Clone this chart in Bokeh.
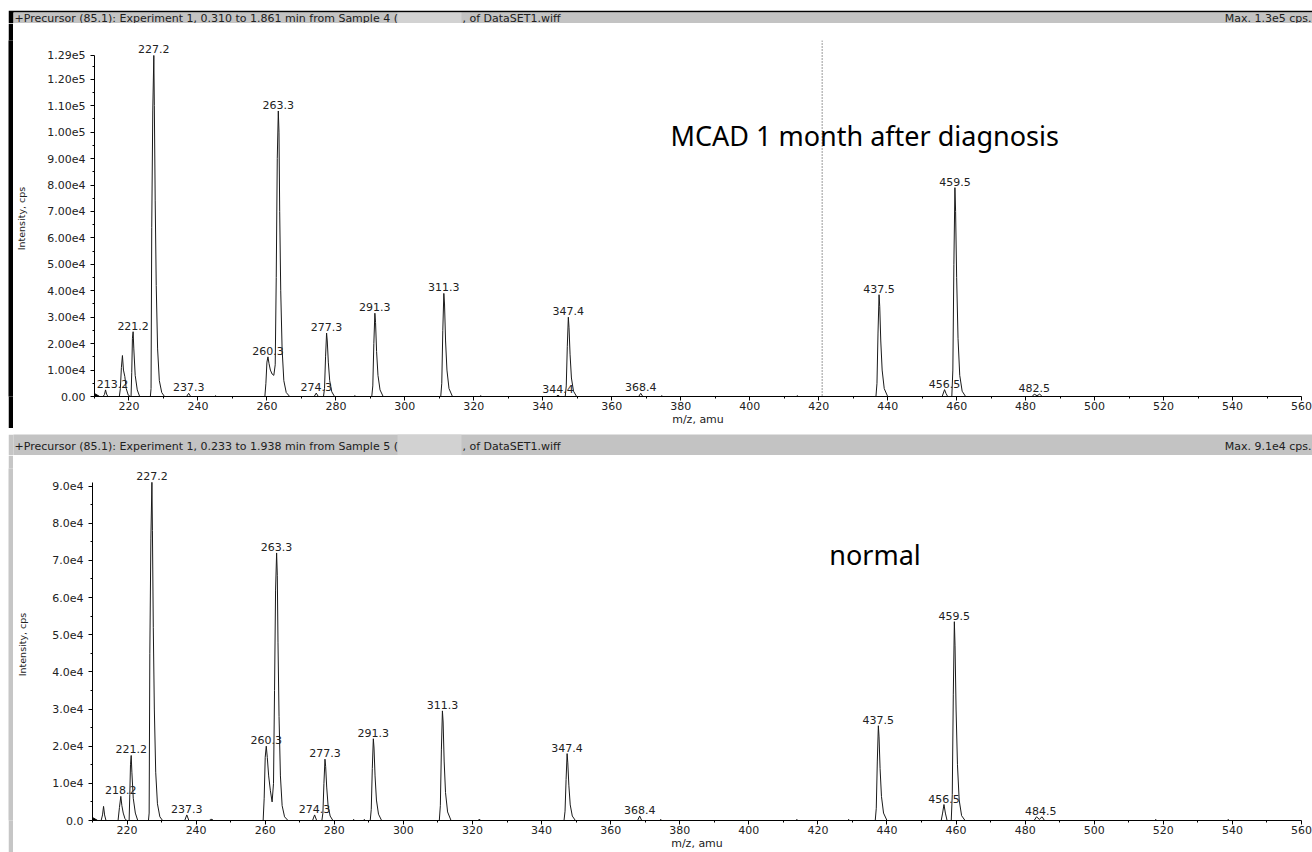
import math
from bokeh.plotting import figure
from bokeh.layouts import column, row
from bokeh.models import Range1d, FixedTicker, Label, LabelSet, Span, ColumnDataSource, Spacer
from bokeh.core.properties import value
from bokeh.core.validation import silence
from bokeh.core.validation.warnings import MISSING_RENDERERS
from bokeh.embed import file_html
from bokeh.resources import INLINE

silence(MISSING_RENDERERS, True)

# ---------------- data ----------------
mz_top = [
    210.0, 212.5, 212.9, 213.2, 213.5, 213.9,
    217.2, 217.5, 217.8, 218.1, 218.4, 218.8, 219.2, 219.8, 220.4,
    220.6, 220.8, 221.0, 221.2, 221.4, 221.8, 222.4, 223.1,
    226.2, 226.4, 226.6, 226.9, 227.2, 227.35, 227.6, 227.9, 228.3, 228.8, 229.5, 230.3,
    236.7, 237.3, 237.9,
    244.8, 245.1, 245.4,
    259.4, 259.7, 260.0, 260.3, 260.6, 261.0, 261.5, 262.0, 262.4, 262.7,
    263.0, 263.3, 263.5, 263.7, 264.0, 264.4, 264.9, 265.6, 266.6,
    273.7, 274.3, 274.9,
    276.4, 276.7, 277.0, 277.3, 277.5, 277.8, 278.2, 278.8, 279.6,
    285.2, 285.5, 285.8,
    290.4, 290.7, 291.0, 291.3, 291.5, 291.8, 292.2, 292.8, 293.7,
    310.4, 310.7, 311.0, 311.3, 311.5, 311.8, 312.2, 312.8, 313.8,
    321.7, 322.0, 322.3,
    343.9, 344.4, 344.9,
    346.5, 346.8, 347.1, 347.4, 347.6, 347.9, 348.3, 348.9, 349.8,
    367.8, 368.4, 369.0,
    374.2, 374.5, 374.8,
    413.5, 413.8, 414.1,
    436.6, 436.9, 437.2, 437.5, 437.7, 438.0, 438.4, 439.0, 440.0,
    455.8, 456.5, 456.9, 457.4,
    458.6, 458.9, 459.2, 459.5, 459.7, 460.0, 460.4, 460.9, 461.6, 462.6,
    481.9, 482.5, 483.3, 484.1, 484.8,
    560.0,
]
int_top = [
    0, 0, 800, 2500, 900, 0,
    0, 3000, 11000, 15500, 10000, 7500, 3000, 500, 0,
    0, 9000, 22000, 24500, 18000, 8000, 2500, 0,
    0, 3000, 64000, 108000, 129000, 110000, 74000, 42000, 18000, 6000, 1500, 0,
    0, 1200, 0,
    0, 300, 0,
    0, 5000, 13000, 15000, 12500, 10000, 8500, 8000, 12000, 45000,
    90000, 108000, 100000, 70000, 40000, 18000, 6000, 1500, 0,
    0, 1300, 0,
    0, 3000, 15000, 24000, 21000, 13000, 6000, 1800, 0,
    0, 300, 0,
    0, 4000, 20000, 31500, 28000, 17000, 8000, 2500, 0,
    0, 5000, 25000, 39000, 35000, 21000, 10000, 3000, 0,
    0, 300, 0,
    0, 500, 0,
    0, 4000, 19000, 30000, 26000, 16000, 7000, 2000, 0,
    0, 1200, 0,
    0, 300, 0,
    0, 300, 0,
    0, 5000, 24000, 38500, 34000, 21000, 10000, 3000, 0,
    0, 2600, 1200, 0,
    0, 10000, 50000, 79000, 70000, 45000, 22000, 8000, 2000, 0,
    0, 900, 300, 900, 0,
    0,
]

mz_bottom = [
    210.0, 212.5, 212.9, 213.2, 213.5, 213.9,
    217.4, 217.8, 218.2, 218.5, 218.9, 219.4, 219.9,
    220.6, 220.8, 221.0, 221.2, 221.4, 221.8, 222.4, 223.1,
    226.2, 226.4, 226.6, 226.9, 227.2, 227.35, 227.6, 227.9, 228.3, 228.8, 229.5, 230.3,
    236.7, 237.3, 237.9,
    243.8, 244.2, 244.6, 245.0,
    259.4, 259.7, 260.0, 260.3, 260.6, 261.0, 261.5, 262.0, 262.4, 262.7,
    263.0, 263.3, 263.5, 263.7, 264.0, 264.4, 264.9, 265.6, 266.6,
    273.7, 274.3, 274.9,
    276.4, 276.7, 277.0, 277.3, 277.5, 277.8, 278.2, 278.8, 279.6,
    285.3, 285.6, 285.9,
    288.4, 288.7, 289.0,
    290.4, 290.7, 291.0, 291.3, 291.5, 291.8, 292.2, 292.8, 293.7,
    310.4, 310.7, 311.0, 311.3, 311.5, 311.8, 312.2, 312.8, 313.8,
    321.7, 322.0, 322.3,
    346.5, 346.8, 347.1, 347.4, 347.6, 347.9, 348.3, 348.9, 349.8,
    367.8, 368.4, 369.0,
    374.2, 374.5, 374.8,
    413.6, 413.9, 414.2,
    428.6, 428.9, 429.2,
    436.6, 436.9, 437.2, 437.5, 437.7, 438.0, 438.4, 439.0, 440.0,
    455.7, 456.1, 456.5, 456.9, 457.4,
    458.6, 458.9, 459.2, 459.5, 459.7, 460.0, 460.4, 460.9, 461.6, 462.6,
    482.6, 483.3, 484.1, 484.9, 485.6,
    517.5, 517.8, 518.1,
    538.5, 538.8, 539.1,
    560.0,
]
int_bottom = [
    0, 0, 1500, 3800, 1500, 0,
    0, 3500, 6500, 4000, 2000, 500, 0,
    0, 7000, 15000, 17500, 13000, 6000, 2000, 0,
    0, 2000, 45000, 76000, 91000, 78000, 52000, 30000, 13000, 4500, 1000, 0,
    0, 1500, 0,
    0, 300, 300, 0,
    0, 6000, 17000, 20000, 17000, 12000, 8000, 5000, 10000, 35000,
    62000, 72000, 66000, 48000, 28000, 12000, 4000, 1000, 0,
    0, 1500, 0,
    0, 2000, 10000, 16500, 14500, 9000, 4000, 1200, 0,
    0, 300, 0,
    0, 300, 0,
    0, 3000, 14000, 22000, 19500, 12000, 5500, 1700, 0,
    0, 4000, 19000, 29500, 26500, 16000, 7500, 2300, 0,
    0, 400, 0,
    0, 2500, 11000, 18000, 15500, 9500, 4200, 1200, 0,
    0, 1200, 0,
    0, 300, 0,
    0, 300, 0,
    0, 300, 0,
    0, 3300, 16000, 25500, 22500, 14000, 6500, 2000, 0,
    0, 2000, 4300, 2000, 0,
    0, 7000, 34000, 53500, 47000, 30000, 15000, 5500, 1300, 0,
    0, 1000, 300, 1000, 0,
    0, 300, 0,
    0, 300, 0,
    0,
]

label_mz_top = [213.2, 221.2, 227.2, 237.3, 260.3, 263.3, 274.3, 277.3, 291.3,
                311.3, 344.4, 347.4, 368.4, 437.5, 456.5, 459.5, 482.5]
label_int_top = [2500, 24500, 129000, 1200, 15000, 108000, 1300, 24000, 31500,
                 39000, 500, 30000, 1200, 38500, 2600, 79000, 900]
label_mz_bottom = [218.2, 221.2, 227.2, 237.3, 260.3, 263.3, 274.3, 277.3, 291.3,
                   311.3, 347.4, 368.4, 437.5, 456.5, 459.5, 484.5]
label_int_bottom = [6500, 17500, 91000, 1500, 20000, 72000, 1500, 16500, 22000,
                    29500, 18000, 1200, 25500, 4300, 53500, 1000]

x_min, x_max = 210, 560
x_ticks = [220, 240, 260, 280, 300, 320, 340, 360, 380, 400, 420, 440, 460, 480, 500, 520, 540, 560]
x_minor_ticks = [210, 230, 250, 270, 290, 310, 330, 350, 370, 390, 410, 430, 450, 470, 490, 510, 530, 550]

top_y_max = 129000
top_y_ticks = [0, 10000, 20000, 30000, 40000, 50000, 60000, 70000, 80000, 90000, 100000, 110000, 120000, 129000]
top_y_labels = ["0.00", "1.00e4", "2.00e4", "3.00e4", "4.00e4", "5.00e4", "6.00e4", "7.00e4",
                "8.00e4", "9.00e4", "1.00e5", "1.10e5", "1.20e5", "1.29e5"]
top_y_minor = [5000, 15000, 25000, 35000, 45000, 55000, 65000, 75000, 85000, 95000, 105000, 115000, 125000]

bottom_y_max = 91000
bottom_y_ticks = [0, 10000, 20000, 30000, 40000, 50000, 60000, 70000, 80000, 90000]
bottom_y_labels = ["0.0", "1.0e4", "2.0e4", "3.0e4", "4.0e4", "5.0e4", "6.0e4", "7.0e4", "8.0e4", "9.0e4"]
bottom_y_minor = [5000, 15000, 25000, 35000, 45000, 55000, 65000, 75000, 85000]

top_title = "+Precursor (85.1): Experiment 1, 0.310 to 1.861 min from Sample 4 ("
bottom_title = "+Precursor (85.1): Experiment 1, 0.233 to 1.938 min from Sample 5 ("
title_tail = ", of DataSET1.wiff"
top_max = "Max. 1.3e5 cps."
bottom_max = "Max. 9.1e4 cps."
top_note = "MCAD 1 month after diagnosis"
bottom_note = "normal"
top_note_pos = (377.0, 98800)
bottom_note_pos = (423.3, 71600)
cursor_mz = 421.0

assert len(mz_top) == len(int_top)
assert len(mz_bottom) == len(int_bottom)

# ---------------- layout constants ----------------
PAD_L = 8
W = 1312 - PAD_L
STRIP = 5
FONT = "DejaVu Sans"
INK = "#1a1a1a"


def plain_fig(w, h, color):
    return figure(width=w, height=h, toolbar_location=None, x_axis_type=None, y_axis_type=None,
                  output_backend="svg", min_border_left=0, min_border_right=0,
                  min_border_top=0, min_border_bottom=0, background_fill_color=color,
                  border_fill_color=color, outline_line_color=None)


def title_bar(h, top_border, edge_color, bar_color, text, tail, maxtext, text_y):
    fw = W - STRIP
    fh = h - top_border
    t = figure(width=W, height=h, toolbar_location=None, x_axis_type=None, y_axis_type=None,
               output_backend="svg", x_range=Range1d(0, fw), y_range=Range1d(0, fh),
               min_border_left=STRIP, min_border_right=0, min_border_top=top_border,
               min_border_bottom=0, background_fill_color=bar_color,
               border_fill_color=edge_color, outline_line_color=None)
    t.quad(left=[384], right=[448], bottom=[0], top=[fh], fill_color="#d2d2d2",
           line_color=None)
    t.add_layout(Label(x=1, y=text_y, text=text, text_font=FONT, text_font_size="11px",
                       text_color="#202020", text_baseline="middle"))
    t.add_layout(Label(x=449, y=text_y, text=tail, text_font=FONT, text_font_size="11px",
                       text_color="#202020", text_baseline="middle"))
    t.add_layout(Label(x=fw - 1, y=text_y, text=maxtext, text_font=FONT, text_font_size="11px",
                       text_color="#202020", text_baseline="middle", text_align="right"))
    return t


def panel(mz, inten, y_max, y_ticks, y_labels, y_minor, lab_mz, lab_int, height, top_border,
          bottom_border, axis_px, ylabel_standoff):
    frame_h = height - top_border - bottom_border
    y_end = y_max * frame_h / axis_px
    p = figure(width=W - STRIP, height=height, toolbar_location=None, output_backend="svg",
               x_range=Range1d(x_min, x_max), y_range=Range1d(0, y_end),
               min_border_left=79, min_border_right=11, min_border_top=top_border,
               min_border_bottom=bottom_border, background_fill_color="white",
               border_fill_color="white", outline_line_color=None)
    p.grid.visible = False
    p.line(mz, inten, line_color=INK, line_width=1)
    p.scatter([x_min], [0], marker="triangle", angle=-math.pi / 2, size=9,
              fill_color="black", line_color="black")

    dx = [7 if (m - x_min) < 5 else 0 for m in lab_mz]
    src = ColumnDataSource(dict(x=lab_mz, y=lab_int, dx=dx,
                                t=[f"{m:.1f}" for m in lab_mz]))
    p.add_layout(LabelSet(x="x", y="y", text="t", source=src, text_align="center",
                          text_baseline="bottom", y_offset=2, x_offset="dx",
                          text_font=value(FONT), text_font_size=value("11px"),
                          text_color="#222222"))

    p.xaxis.ticker = FixedTicker(ticks=x_ticks, minor_ticks=x_minor_ticks)
    p.xaxis.bounds = (x_min, x_max)
    p.xaxis.axis_label = "m/z, amu"
    p.yaxis.ticker = FixedTicker(ticks=y_ticks, minor_ticks=y_minor)
    p.yaxis.bounds = (0, y_max)
    p.yaxis.major_label_overrides = {t: l for t, l in zip(y_ticks, y_labels)}
    p.yaxis.axis_label = "Intensity, cps"
    for ax in (p.xaxis[0], p.yaxis[0]):
        ax.axis_line_color = "black"
        ax.major_tick_line_color = "black"
        ax.minor_tick_line_color = "black"
        ax.major_tick_out = 4
        ax.major_tick_in = 0
        ax.minor_tick_out = 2
        ax.minor_tick_in = 0
        ax.major_label_text_font = FONT
        ax.major_label_text_font_size = "11px"
        ax.major_label_text_color = "#222222"
        ax.axis_label_text_font = FONT
        ax.axis_label_text_font_style = "normal"
        ax.axis_label_text_color = "#222222"
    p.xaxis.major_label_standoff = 1
    p.xaxis.axis_label_standoff = 0
    p.xaxis.axis_label_text_font_size = "11px"
    p.yaxis.major_label_standoff = 5
    p.yaxis.axis_label_standoff = ylabel_standoff
    p.yaxis.axis_label_text_font_size = "9.5px"
    return p


# top panel
T1 = title_bar(13, 2, "black", "#c3c3c3", top_title, title_tail, top_max, 5.5)
P1 = panel(mz_top, int_top, top_y_max, top_y_ticks, top_y_labels, top_y_minor,
           label_mz_top, label_int_top, 405, 17, 31, 342, 17)
P1.add_layout(Span(location=cursor_mz, dimension="height", line_color="#333333",
                   line_dash="1 2", line_width=1))
P1.add_layout(Label(x=top_note_pos[0], y=top_note_pos[1], text=top_note, text_font="Noto Sans",
                    text_font_size="27px", text_color="black", text_baseline="middle"))
L1 = plain_fig(STRIP, 405, "black")
B1 = plain_fig(W, 3, "black")
G1 = plain_fig(W, 3, "#d9d9d9")

# bottom panel
T2 = title_bar(21, 0, "#c6c6c6", "#c3c3c3", bottom_title, title_tail, bottom_max, 9.5)
P2 = panel(mz_bottom, int_bottom, bottom_y_max, bottom_y_ticks, bottom_y_labels, bottom_y_minor,
           label_mz_bottom, label_int_bottom, 397, 13, 28, 342, 21)
P2.add_layout(Label(x=bottom_note_pos[0], y=bottom_note_pos[1], text=bottom_note,
                    text_font="Noto Sans", text_font_size="27px", text_color="black",
                    text_baseline="middle"))
L2 = plain_fig(STRIP, 397, "#c6c6c6")

body = column(Spacer(width=W, height=10), T1, row(L1, P1), B1, G1, T2, row(L2, P2))
layout = row(Spacer(width=PAD_L, height=852), body)

open("out.html", "w").write(file_html(layout, INLINE))
